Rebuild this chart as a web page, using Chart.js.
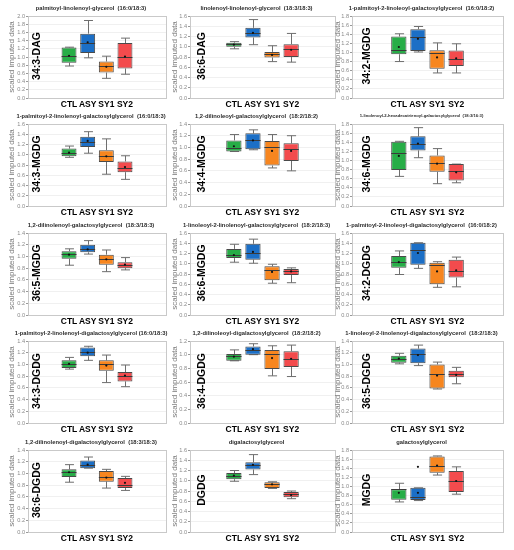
<!DOCTYPE html>
<html>
<head>
<meta charset="utf-8">
<script src="https://cdn.jsdelivr.net/npm/chart.js@4"></script>
<style>
  html, body { margin: 0; padding: 0; background: #fff; }
  #wrap { position: relative; width: 514px; height: 550px; overflow: hidden; }
  #wrap canvas { position: absolute; }
</style>
</head>
<body>
<div id="wrap"></div>
<script>
// groups on the x axis
const groups = ['CTL', 'ASY', 'SY1', 'SY2'];
const groupColors = ['#27ad47', '#1c6fc6', '#f7861f', '#f34b4d'];

// one entry per panel, read left-to-right, top-to-bottom
const titles = [
  'palmitoyl-linolenoyl-glycerol  (16:0/18:3)',
  'linolenoyl-linolenoyl-glycerol  (18:3/18:3)',
  '1-palmitoyl-2-linoleoyl-galactosylglycerol  (16:0/18:2)',
  '1-palmitoyl-2-linolenoyl-galactosylglycerol  (16:0/18:3)',
  '1,2-dilinoleoyl-galactosylglycerol  (18:2/18:2)',
  '1-linolenoyl-2-hexadecatrienoyl-galactosylglycerol  (18:3/16:3)',
  '1,2-dilinolenoyl-galactosylglycerol  (18:3/18:3)',
  '1-linoleoyl-2-linolenoyl-galactosylglycerol  (18:2/18:3)',
  '1-palmitoyl-2-linoleoyl-digalactosylglycerol  (16:0/18:2)',
  '1-palmitoyl-2-linolenoyl-digalactosylglycerol (16:0/18:3)',
  '1,2-dilinoleoyl-digalactosylglycerol  (18:2/18:2)',
  '1-linoleoyl-2-linolenoyl-digalactosylglycerol  (18:2/18:3)',
  '1,2-dilinolenoyl-digalactosylglycerol  (18:3/18:3)',
  'digalactosylglycerol',
  'galactosylglycerol'
];
const lipids = [
  '34:3-DAG', '36:6-DAG', '34:2-MGDG',
  '34:3-MGDG', '34:4-MGDG', '34:6-MGDG',
  '36:5-MGDG', '36:6-MGDG', '34:2-DGDG',
  '34:3-DGDG', '36:4-DGDG', '36:5-DGDG',
  '36:6-DGDG', 'DGDG', 'MGDG'
];
const yMax = [2.0, 1.6, 1.8, 1.6, 1.4, 1.8, 1.4, 1.6, 1.6, 1.4, 1.2, 1.4, 1.4, 1.6, 1.8];

// box plot statistics, [CTL, ASY, SY1, SY2] per panel
const whiskerLow = [
  [0.78, 0.98, 0.48, 0.58], [0.96, 1.04, 0.71, 0.70], [0.80, 1.01, 0.55, 0.55],
  [0.95, 1.03, 0.62, 0.52], [0.93, 0.96, 0.65, 0.60], [0.65, 1.06, 0.49, 0.51],
  [0.85, 1.04, 0.74, 0.77], [1.03, 1.01, 0.62, 0.63], [0.79, 0.91, 0.54, 0.55],
  [0.92, 1.07, 0.69, 0.62], [0.91, 1.00, 0.69, 0.68], [1.01, 0.98, 0.58, 0.67],
  [0.85, 1.09, 0.75, 0.71], [0.99, 1.12, 0.85, 0.65], [0.66, 0.69, 1.25, 0.83]
];
const boxLow = [
  [0.86, 1.10, 0.62, 0.72], [1.00, 1.18, 0.79, 0.80], [0.96, 1.03, 0.64, 0.70],
  [0.97, 1.15, 0.86, 0.66], [0.93, 0.97, 0.69, 0.77], [0.79, 1.22, 0.75, 0.56],
  [0.96, 1.07, 0.86, 0.80], [1.11, 1.08, 0.68, 0.78], [0.92, 0.98, 0.60, 0.73],
  [0.94, 1.14, 0.89, 0.71], [0.91, 1.00, 0.79, 0.82], [1.03, 1.02, 0.59, 0.78],
  [0.94, 1.09, 0.86, 0.75], [1.03, 1.22, 0.86, 0.68], [0.71, 0.70, 1.30, 0.88]
];
const medians = [
  [1.03, 1.35, 0.78, 1.00], [1.05, 1.27, 0.85, 0.95], [1.06, 1.35, 0.98, 0.85],
  [1.03, 1.25, 0.97, 0.74], [0.99, 1.13, 1.00, 0.98], [1.17, 1.37, 0.95, 0.76],
  [1.04, 1.13, 0.96, 0.86], [1.17, 1.21, 0.88, 0.86], [1.03, 1.26, 0.97, 0.85],
  [1.01, 1.21, 1.01, 0.81], [0.98, 1.07, 1.01, 0.94], [1.10, 1.18, 0.84, 0.84],
  [1.02, 1.15, 0.94, 0.81], [1.10, 1.31, 0.93, 0.74], [0.94, 0.77, 1.45, 1.12]
];
const boxHigh = [
  [1.23, 1.57, 0.89, 1.34], [1.08, 1.37, 0.90, 1.05], [1.35, 1.51, 1.05, 1.04],
  [1.12, 1.35, 1.09, 0.87], [1.12, 1.24, 1.11, 1.07], [1.41, 1.53, 1.11, 0.92],
  [1.09, 1.20, 1.03, 0.90], [1.29, 1.39, 0.95, 0.90], [1.15, 1.41, 1.02, 1.08],
  [1.07, 1.29, 1.07, 0.87], [1.01, 1.12, 1.07, 1.05], [1.15, 1.27, 1.00, 0.89],
  [1.07, 1.22, 1.04, 0.92], [1.15, 1.36, 0.97, 0.78], [0.94, 0.97, 1.66, 1.34]
];
const whiskerHigh = [
  [1.24, 1.89, 1.02, 1.46], [1.10, 1.53, 1.02, 1.26], [1.41, 1.57, 1.21, 1.19],
  [1.17, 1.45, 1.31, 0.98], [1.22, 1.30, 1.22, 1.20], [1.42, 1.72, 1.26, 0.92],
  [1.13, 1.27, 1.11, 0.98], [1.38, 1.48, 0.99, 0.92], [1.25, 1.41, 1.04, 1.13],
  [1.12, 1.31, 1.16, 0.99], [1.07, 1.16, 1.13, 1.14], [1.19, 1.33, 1.04, 0.95],
  [1.15, 1.28, 1.07, 0.95], [1.20, 1.51, 0.98, 0.80], [1.07, 0.97, 1.67, 1.43]
];
const means = [
  [1.03, 1.36, 0.76, 1.01], [1.04, 1.27, 0.84, 0.94], [1.12, 1.30, 0.89, 0.87],
  [1.04, 1.27, 0.97, 0.76], [1.02, 1.12, 0.94, 0.94], [1.10, 1.37, 0.93, 0.74],
  [1.03, 1.12, 0.95, 0.86], [1.17, 1.23, 0.84, 0.85], [1.03, 1.21, 0.85, 0.87],
  [1.01, 1.20, 0.98, 0.81], [0.97, 1.08, 0.95, 0.94], [1.10, 1.16, 0.81, 0.82],
  [1.02, 1.15, 0.93, 0.84], [1.10, 1.31, 0.93, 0.72], [0.86, 0.86, 1.46, 1.12]
];
// outliers as [panel, group, value]
const outliers = [[14, 1, 1.43]];

// panel placement
const colLeft = [7, 170, 333];
const colWidth = [163, 169, 174];
const colAxisWidth = [21, 20, 19];
const colXPad = [2.2, 2.3, 2.45];
const rowTop = [0, 108, 217, 325, 434];

// whiskers, medians, frame, big lipid label, title
const boxExtras = {
  id: 'boxExtras',
  beforeDraw(chart) {
    const { ctx, chartArea: a } = chart;
    ctx.save();
    ctx.fillStyle = '#ffffff';
    ctx.fillRect(a.left, a.top, a.width, a.height);
    ctx.restore();
  },
  beforeDatasetsDraw(chart) {
    const { ctx, chartArea: a } = chart;
    const p = chart.options.plugins.boxExtras;
    const y = chart.scales.y;
    ctx.save();
    ctx.strokeStyle = '#c9c9c9';
    ctx.lineWidth = 1;
    ctx.strokeRect(Math.round(a.left) + 0.5, Math.round(a.top) + 0.5, Math.round(a.width), Math.round(a.height));
    // whiskers
    ctx.strokeStyle = '#6e6e6e';
    chart.getDatasetMeta(0).data.forEach((bar, i) => {
      const cx = Math.round(bar.x) + 0.5;
      const cap = bar.width * 0.3;
      [[p.lo[i], p.q1[i]], [p.hi[i], p.q3[i]]].forEach(([end, edge]) => {
        const ye = y.getPixelForValue(end);
        const yb = y.getPixelForValue(edge);
        ctx.beginPath();
        ctx.moveTo(cx, yb);
        ctx.lineTo(cx, ye);
        ctx.moveTo(cx - cap, ye);
        ctx.lineTo(cx + cap, ye);
        ctx.stroke();
      });
    });
    ctx.restore();
  },
  afterDatasetDraw(chart, args) {
    if (args.index !== 0) return;
    const { ctx } = chart;
    const p = chart.options.plugins.boxExtras;
    const y = chart.scales.y;
    ctx.save();
    ctx.strokeStyle = '#3a3a3a';
    ctx.lineWidth = 1;
    args.meta.data.forEach((bar, i) => {
      const ym = Math.round(y.getPixelForValue(p.med[i])) + 0.5;
      ctx.beginPath();
      ctx.moveTo(bar.x - bar.width / 2, ym);
      ctx.lineTo(bar.x + bar.width / 2, ym);
      ctx.stroke();
    });
    ctx.restore();
  },
  afterDraw(chart) {
    const { ctx, chartArea: a } = chart;
    const p = chart.options.plugins.boxExtras;
    const cx = (a.left + a.right) / 2;
    ctx.save();
    ctx.fillStyle = '#2b2b2b';
    ctx.font = 'bold ' + p.titleSize + 'px "Liberation Sans", Arial, sans-serif';
    ctx.textAlign = 'center';
    ctx.textBaseline = 'middle';
    ctx.fillText(p.title, cx - 6, a.top - 8);
    ctx.translate(cx - 60, (a.top + a.bottom) / 2 - 1);
    ctx.rotate(-Math.PI / 2);
    ctx.fillStyle = '#000';
    ctx.font = 'bold 10.5px "Liberation Sans", Arial, sans-serif';
    ctx.fillText(p.lipid, 0, 0);
    ctx.restore();
  }
};

const wrap = document.getElementById('wrap');

lipids.forEach((lipid, k) => {
  const col = k % 3;
  const row = Math.floor(k / 3);
  const canvas = document.createElement('canvas');
  canvas.width = colWidth[col];
  canvas.height = 110;
  canvas.style.left = colLeft[col] + 'px';
  canvas.style.top = rowTop[row] + 'px';
  wrap.appendChild(canvas);

  const pad = colXPad[col];
  const extra = outliers.filter(o => o[0] === k).map(o => ({ x: o[1], y: o[2] }));

  new Chart(canvas, {
    type: 'bar',
    data: {
      datasets: [
        {
          type: 'bar',
          data: groups.map((g, i) => ({ x: i, y: [boxLow[k][i], boxHigh[k][i]] })),
          backgroundColor: groupColors,
          borderColor: '#4a4a4a',
          borderWidth: 1,
          borderSkipped: false,
          barPercentage: 0.8,
          categoryPercentage: 1,
          order: 2
        },
        {
          type: 'scatter',
          data: groups.map((g, i) => ({ x: i, y: means[k][i] })).concat(extra),
          pointRadius: 1.1,
          pointBackgroundColor: '#111',
          pointBorderWidth: 0,
          order: 1
        }
      ]
    },
    options: {
      responsive: false,
      animation: false,
      events: [],
      layout: { padding: { top: 16, right: 2, left: 0, bottom: 0 } },
      plugins: {
        legend: { display: false },
        tooltip: { enabled: false },
        boxExtras: {
          title: titles[k],
          titleSize: k === 5 ? 4.2 : 5.8,
          lipid: lipid,
          lo: whiskerLow[k], q1: boxLow[k], med: medians[k], q3: boxHigh[k], hi: whiskerHigh[k]
        }
      },
      scales: {
        x: {
          type: 'linear',
          min: -pad,
          max: 3 + pad,
          offset: false,
          afterBuildTicks: s => { s.ticks = groups.map((g, i) => ({ value: i })); },
          afterFit: s => { s.height = 12; },
          grid: { display: false, drawTicks: false },
          border: { display: false },
          ticks: {
            autoSkip: false,
            maxRotation: 0,
            padding: 2,
            color: '#000',
            font: { family: '"Liberation Sans", Arial', weight: 'bold', size: 8.5 },
            callback: v => groups[v]
          }
        },
        y: {
          min: 0,
          max: yMax[k],
          afterFit: s => { s.width = colAxisWidth[col]; },
          grid: { color: '#f0f0f0', tickLength: 2, tickColor: '#999' },
          border: { color: '#9a9a9a' },
          ticks: {
            autoSkip: false,
            stepSize: 0.2,
            padding: 1,
            color: '#8a8a8a',
            font: { family: '"Liberation Sans", Arial', size: 5.6 },
            callback: v => v.toFixed(1)
          },
          title: {
            display: true,
            text: 'scaled imputed data',
            color: '#7a7a7a',
            padding: 0,
            font: { family: '"Liberation Sans", Arial', size: 8 }
          }
        }
      }
    },
    plugins: [boxExtras]
  });
});
</script>
</body>
</html>
